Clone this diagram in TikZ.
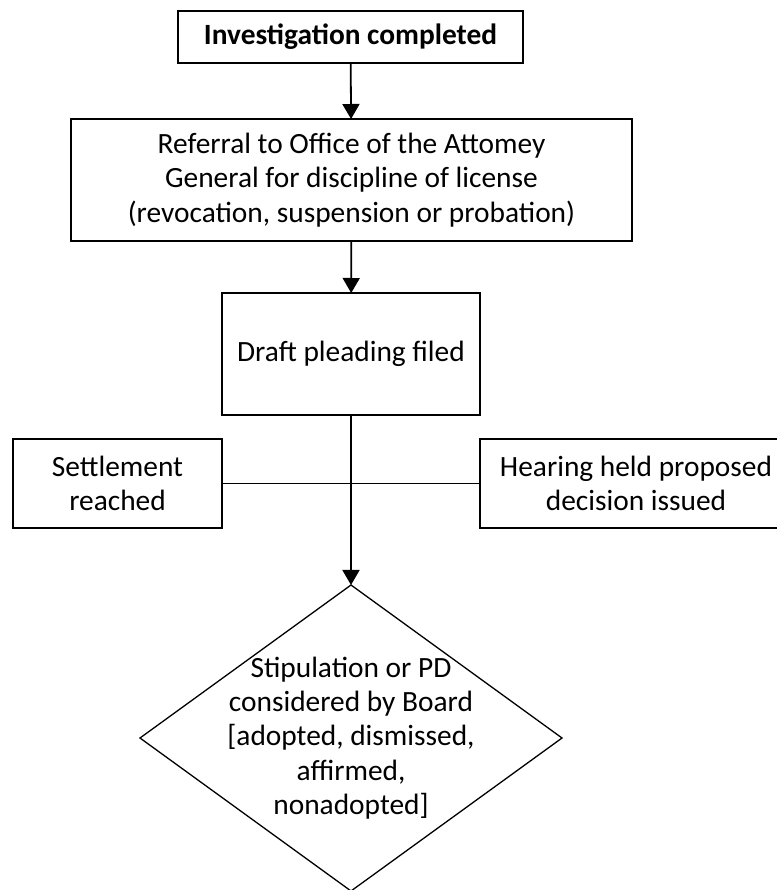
\documentclass[tikz,border=0pt]{standalone}
\usepackage{fontspec}
\setmainfont{Carlito}
\usetikzlibrary{arrows.meta,shapes.geometric}

\begin{document}
\begin{tikzpicture}[x=1bp,y=-1bp,
  font=\fontsize{29.5}{34.5}\selectfont,
  box/.style={draw,line width=1.8bp,inner sep=0pt,outer sep=0pt,align=center},
  arr/.style={-{Triangle[width=17bp,length=15bp]},line width=1.8bp}]
\useasboundingbox (0,0) rectangle (777,890);
\node[box,minimum width=345bp,minimum height=52bp,font=\fontsize{29.5}{34.5}\selectfont\bfseries] (invest) at (350.5,37) {Investigation completed};
\node[box,minimum width=561bp,minimum height=122bp] (referral) at (351.5,180) {Referral to Office of the Attomey\\General for discipline of license\\(revocation, suspension or probation)};
\node[box,minimum width=258bp,minimum height=122bp] (draft) at (351,354) {Draft pleading filed};
\node[box,minimum width=209bp,minimum height=89bp] (settle) at (117.5,483.5) {Settlement\\reached};
\node[box,minimum width=312bp,minimum height=89bp] (hearing) at (636,483.5) {Hearing held proposed\\decision issued};
\node[diamond,draw,line width=1.3bp,inner sep=0pt,outer sep=0pt,minimum width=422bp,minimum height=306bp] (board) at (351,738) {};
\node[align=center,inner sep=0pt] (boardtext) at (board.center) {Stipulation or PD\\considered by Board\\{[}adopted, dismissed,\\affirmed,\\nonadopted{]}};
\draw[arr] (invest) -- (referral);
\draw[arr] (referral) -- (draft);
\draw[arr] (draft) -- (board);
\draw[line width=1.8bp] (settle) -- (hearing);
\end{tikzpicture}
\end{document}
